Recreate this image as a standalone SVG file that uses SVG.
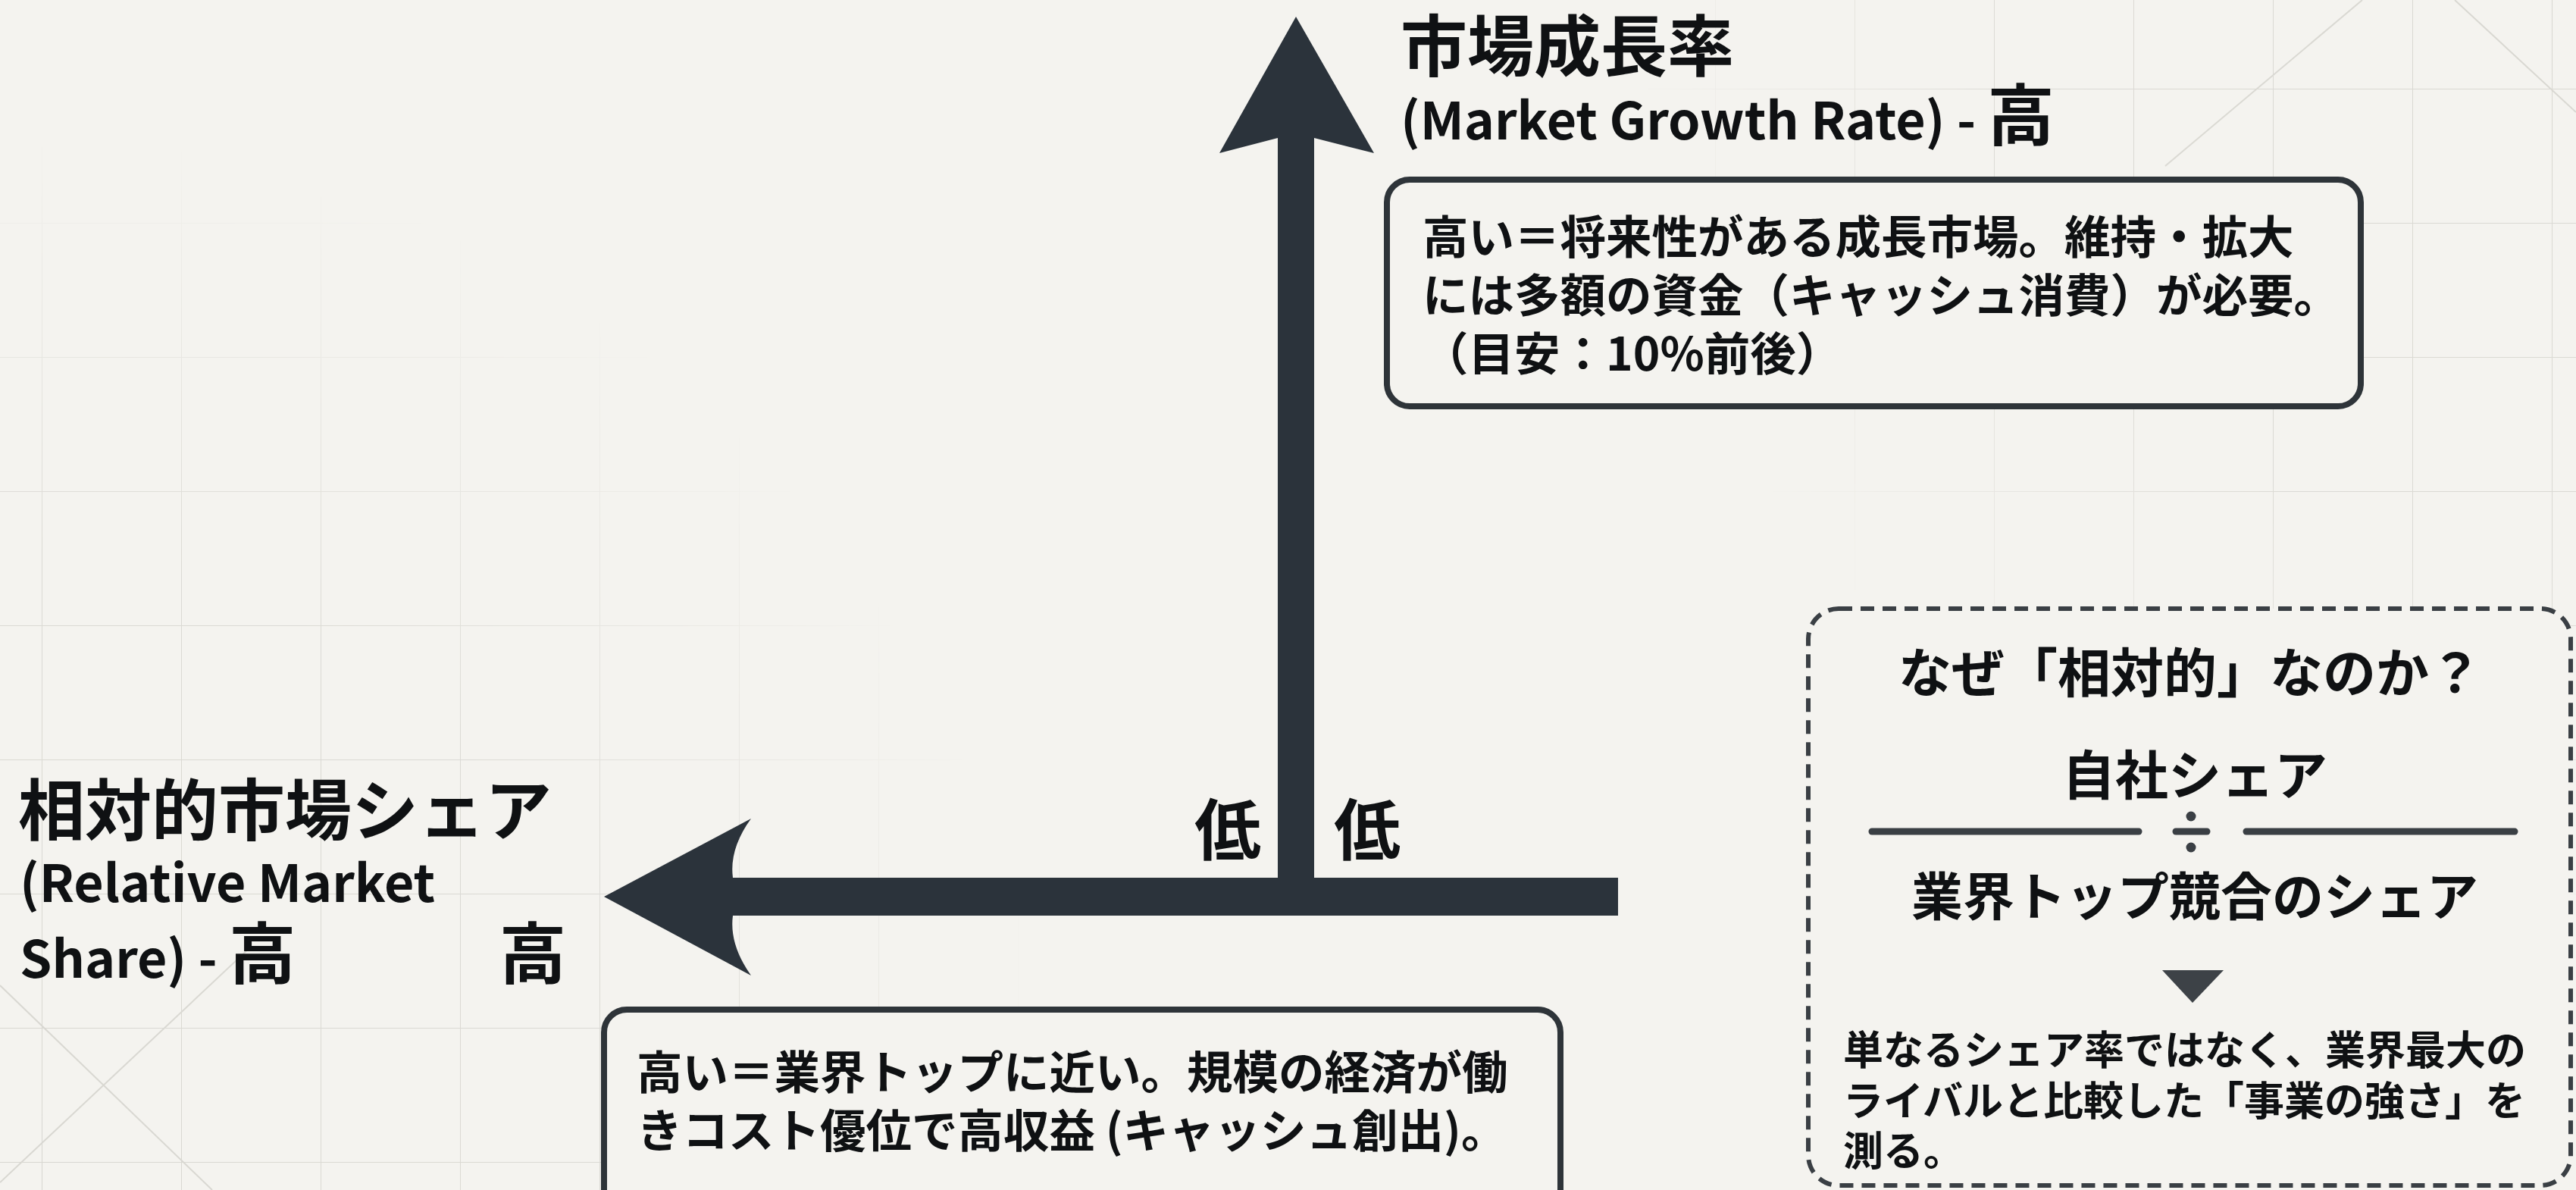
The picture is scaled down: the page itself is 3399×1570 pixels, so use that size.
<svg xmlns="http://www.w3.org/2000/svg" width="3399" height="1570" viewBox="0 0 3399 1570">
<style>
  text { font-family: "Noto Sans CJK JP", "Noto Sans", sans-serif; font-weight: 700; fill: #0f1113; }
  .axis { fill: #2b333b; }
  .box { fill: #f4f3ef; stroke: #2e3439; stroke-width: 8; }
  .dash { fill: #f4f3ef; stroke: #3a3f44; stroke-width: 6; stroke-dasharray: 18 11; }
  .t88 { font-size: 88px; }
  .lat { font-size: 68px; }
  .b60 { font-size: 60.5px; }
  .grid { stroke: #d8d7d1; stroke-width: 2; fill: none; }
</style>
<defs>
  <pattern id="gridpat" patternUnits="userSpaceOnUse" x="55" y="117" width="184" height="177">
    <path d="M0 0 H184 M0 0 V177" class="grid"/>
  </pattern>
  <radialGradient id="gLL" gradientUnits="userSpaceOnUse" cx="0" cy="1570" r="1400">
    <stop offset="0" stop-color="#fff" stop-opacity="1"/>
    <stop offset="0.6" stop-color="#fff" stop-opacity="0.9"/>
    <stop offset="1" stop-color="#fff" stop-opacity="0"/>
  </radialGradient>
  <radialGradient id="gUR" gradientUnits="userSpaceOnUse" cx="3399" cy="0" r="1250">
    <stop offset="0" stop-color="#fff" stop-opacity="1"/>
    <stop offset="0.6" stop-color="#fff" stop-opacity="0.9"/>
    <stop offset="1" stop-color="#fff" stop-opacity="0"/>
  </radialGradient>
  <mask id="gridmask" maskUnits="userSpaceOnUse" x="0" y="0" width="3399" height="1570">
    <rect width="3399" height="1570" fill="url(#gLL)"/>
    <rect width="3399" height="1570" fill="url(#gUR)"/>
  </mask>
</defs>

<rect width="3399" height="1570" fill="#f4f3ef"/>
<g id="background-grid" mask="url(#gridmask)">
  <rect width="3399" height="1570" fill="url(#gridpat)"/>
  <g class="grid" stroke-width="1.5">
    <path d="M2857 219 L3117 0"/>
    <path d="M3239 0 L3399 148"/>
    <path d="M0 1300 L280 1570"/>
    <path d="M330 1250 L0 1560"/>
  </g>
</g>

<g id="connectors">
  <path id="axis-y" class="axis" d="M1710 22 L1813 202 L1734 182 L1734 1183 L1686 1183 L1686 182 L1609 202 Z"/>
  <path id="axis-x" class="axis" d="M797 1183 L991 1080 Q962 1120 967 1158 L2135 1158 L2135 1208 L967 1208 Q962 1246 991 1287 Z"/>
</g>

<g id="label-growth">
  <text class="t88" x="1848" y="93">市場成長率</text>
  <text x="1848" y="184"><tspan class="lat">(Market Growth Rate) - </tspan><tspan class="t88">高</tspan></text>
</g>

<g id="label-share">
  <text class="t88" x="24" y="1101">相対的市場シェア</text>
  <text class="lat" x="26" y="1190">(Relative Market</text>
  <text x="26" y="1290"><tspan class="lat">Share) - </tspan><tspan class="t88">高</tspan></text>
</g>

<g id="tick-labels">
  <text class="t88" x="1664" y="1127" text-anchor="end">低</text>
  <text class="t88" x="1760" y="1127">低</text>
  <text class="t88" x="659" y="1290">高</text>
</g>

<g id="node-growth-note">
  <rect class="box" x="1830" y="237" width="1285" height="299" rx="30"/>
  <text class="b60" x="1877" y="335">高い＝将来性がある成長市場。維持・拡大</text>
  <text class="b60" x="1877" y="412">には多額の資金（キャッシュ消費）が必要。</text>
  <text class="b60" x="1877" y="489">（目安：10%前後）</text>
</g>

<g id="node-share-note">
  <rect class="box" x="797" y="1332" width="1262" height="300" rx="30"/>
  <text class="b60" x="840" y="1437">高い＝業界トップに近い。規模の経済が働</text>
  <text class="b60" x="840" y="1514">きコスト優位で高収益 (キャッシュ創出)。</text>
</g>

<g id="node-why-relative">
  <rect class="dash" x="2386" y="803" width="1006" height="761" rx="40"/>
  <text x="2890" y="914" font-size="70" text-anchor="middle">なぜ「相対的」なのか？</text>
  <text x="2896" y="1049" font-size="70" text-anchor="middle">自社シェア</text>
  <g stroke="#3a3f44" stroke-width="9" stroke-linecap="round">
    <line x1="2470" y1="1097" x2="2822" y2="1097"/>
    <line x1="2964" y1="1097" x2="3318" y2="1097"/>
    <line x1="2871" y1="1097" x2="2912" y2="1097"/>
  </g>
  <circle cx="2891" cy="1077" r="6.5" fill="#3a3f44"/>
  <circle cx="2891" cy="1118" r="6.5" fill="#3a3f44"/>
  <text x="2896" y="1208" font-size="68" text-anchor="middle">業界トップ競合のシェア</text>
  <path d="M2853 1280 L2934 1280 L2893 1323 Z" fill="#3d4247"/>
  <text x="2432" y="1405" font-size="53">単なるシェア率ではなく、業界最大の</text>
  <text x="2432" y="1472" font-size="53">ライバルと比較した「事業の強さ」を</text>
  <text x="2432" y="1538" font-size="53">測る。</text>
</g>
</svg>
